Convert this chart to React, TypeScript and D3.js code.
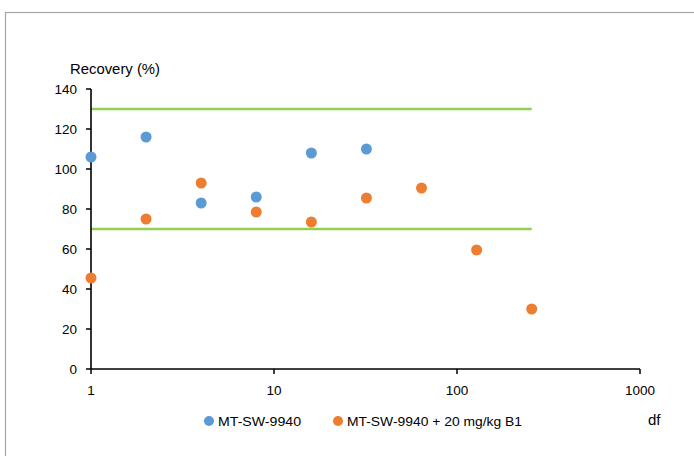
import React from "react";
import * as d3 from "d3";

const dfSeriesA = [1, 2, 4, 8, 16, 32];
const recoveryA = [106, 116, 83, 86, 108, 110];
const dfSeriesB = [1, 2, 4, 8, 16, 32, 64, 128, 256];
const recoveryB = [45.5, 75, 93, 78.5, 73.5, 85.5, 90.5, 59.5, 30];
const limitValues = [130, 70];
const limitRange = [1, 256];
const xTicks = [1, 10, 100, 1000];
const yTicks = [0, 20, 40, 60, 80, 100, 120, 140];
const seriesNames = ["MT-SW-9940", "MT-SW-9940 + 20 mg/kg B1"];

const W = 694;
const H = 456;
const FONT = "'Liberation Sans', Arial, sans-serif";

export default function App() {
  const x = d3.scaleLog().domain([1, 1000]).range([91, 640]);
  const y = d3.scaleLinear().domain([0, 140]).range([369, 89]);
  const blue = "#5B9BD5";
  const orange = "#ED7D31";
  const green = "#92D050";

  return (
    <svg
      width={W}
      height={H}
      style={{ position: "absolute", left: 0, top: 0, background: "#fff" }}
      fontFamily={FONT}
    >
      <rect x={5.5} y={12.5} width={W + 10} height={H + 10} fill="#fff" stroke="#a6a6a6" strokeWidth={1.2} />

      {limitValues.map((v) => (
        <line key={v} x1={x(limitRange[0])} x2={x(limitRange[1])} y1={y(v)} y2={y(v)} stroke={green} strokeWidth={2.4} />
      ))}

      <line x1={x(1)} x2={x(1)} y1={y(0)} y2={y(140)} stroke="#000" strokeWidth={1.6} />
      {yTicks.map((t) => (
        <g key={t}>
          <line x1={x(1) - 5} x2={x(1)} y1={y(t)} y2={y(t)} stroke="#000" strokeWidth={1.5} />
          <text x={77} y={y(t)} dy="0.35em" textAnchor="end" fontSize={13.5} fill="#000">
            {t}
          </text>
        </g>
      ))}

      <line x1={x(1)} x2={x(1000)} y1={y(0)} y2={y(0)} stroke="#000" strokeWidth={1.6} />
      {xTicks.map((t) => (
        <g key={t}>
          <line x1={x(t)} x2={x(t)} y1={y(0)} y2={y(0) + 5} stroke="#000" strokeWidth={1.5} />
          <text x={x(t)} y={390} dy="0.35em" textAnchor="middle" fontSize={13.5} fill="#000">
            {t}
          </text>
        </g>
      ))}

      <text x={70} y={69} dy="0.35em" fontSize={14.5} fill="#000" textLength={90} lengthAdjust="spacingAndGlyphs">
        Recovery (%)
      </text>
      <text x={648} y={420} dy="0.35em" fontSize={15} fill="#000">
        df
      </text>

      {dfSeriesA.map((d, i) => (
        <circle key={"a" + i} cx={x(d)} cy={y(recoveryA[i])} r={5.5} fill={blue} />
      ))}
      {dfSeriesB.map((d, i) => (
        <circle key={"b" + i} cx={x(d)} cy={y(recoveryB[i])} r={5.5} fill={orange} />
      ))}

      <circle cx={209} cy={421} r={5} fill={blue} />
      <text x={218} y={421} dy="0.35em" fontSize={13.5} fill="#000" textLength={83} lengthAdjust="spacingAndGlyphs">
        {seriesNames[0]}
      </text>
      <circle cx={338} cy={421} r={5} fill={orange} />
      <text x={347} y={421} dy="0.35em" fontSize={13.5} fill="#000" textLength={175} lengthAdjust="spacingAndGlyphs">
        {seriesNames[1]}
      </text>
    </svg>
  );
}
